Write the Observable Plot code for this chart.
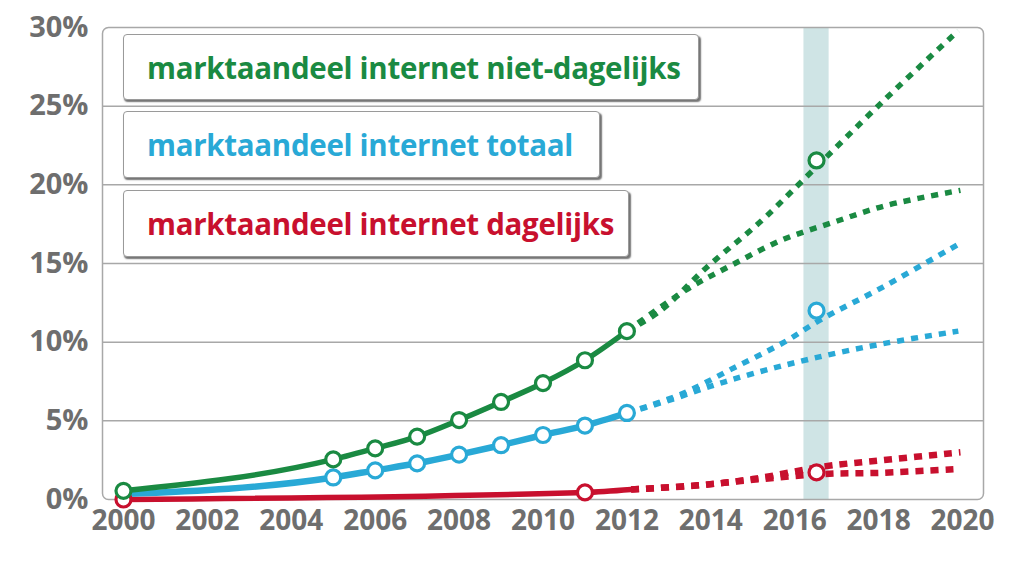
<!DOCTYPE html>
<html>
<head>
<meta charset="utf-8">
<script src="https://cdn.jsdelivr.net/npm/d3@7"></script>
<script src="https://cdn.jsdelivr.net/npm/@observablehq/plot@0.6"></script>
<style>
  html, body { margin: 0; padding: 0; background: #fff; }
  #wrap { position: relative; width: 1024px; height: 566px; overflow: hidden; font-family: "Open Sans", sans-serif; }
  #wrap svg text { font-weight: 700; }
  .lg { position: absolute; box-sizing: border-box; background: #fff; border: 1.5px solid #9a9a9a; border-radius: 4px;
        box-shadow: 1.5px 2px 1.5px rgba(0,0,0,0.55); font-family: "Open Sans", sans-serif; font-weight: 700;
        font-size: 29.5px; display: flex; align-items: center; padding-left: 23px; white-space: nowrap; letter-spacing: -0.3px; }
</style>
</head>
<body>
<div id="wrap"></div>
<script>
// ---- data ----
const seriesNames = ["marktaandeel internet niet-dagelijks", "marktaandeel internet totaal", "marktaandeel internet dagelijks"];
const seriesColors = ["#1a8a42", "#29a9d6", "#c8102e"];

// measured years (solid lines)
const measuredYears = [2000, 2005, 2006, 2007, 2008, 2009, 2010, 2011, 2012];
const nietDagelijks = [0.55, 2.55, 3.25, 4.0, 5.05, 6.2, 7.4, 8.85, 10.7];
const totaal        = [0.35, 1.4, 1.85, 2.3, 2.85, 3.45, 4.1, 4.7, 5.5];
const dagelijksYears = [2000, 2011, 2012.1];
const dagelijks      = [0.0, 0.45, 0.64];
const dagelijksMarkerYears = [2000, 2011];
const dagelijksMarkers     = [0.0, 0.45];

// projections (dotted lines)
const greenHighYears = [2012, 2012.8, 2013.9, 2015.2, 2016.2, 2018.1, 2019.9];
const greenHigh      = [10.7, 12.0, 14.75, 17.7, 20.3, 25.3, 29.8];
const greenLowYears  = [2012, 2013.4, 2014.5, 2015.7, 2016.9, 2018.2, 2019.95];
const greenLow       = [10.7, 13.3, 14.9, 16.5, 17.6, 18.7, 19.65];
const blueHighYears  = [2012, 2013.3, 2014.5, 2015.75, 2016.6, 2018.1, 2019.95];
const blueHigh       = [5.5, 6.7, 8.3, 10.0, 11.4, 13.5, 16.3];
const blueLowYears   = [2012, 2013, 2014, 2015, 2016.4, 2018.1, 2019.9];
const blueLow        = [5.5, 6.3, 7.2, 8.0, 8.95, 9.9, 10.7];
const redHighYears   = [2012.1, 2013.7, 2015, 2016.7, 2018.1, 2019.95];
const redHigh        = [0.64, 0.9, 1.3, 2.1, 2.5, 3.0];
const redLowYears    = [2012.1, 2013.7, 2015, 2016.7, 2018.1, 2019.95];
const redLow         = [0.64, 0.9, 1.25, 1.62, 1.7, 1.95];

// 2016 estimate markers
const estimateYear = 2016.52;
const estimates = [21.55, 12.0, 1.72];
const bandStart = 2016.22, bandEnd = 2016.82;

const xTicks = d3.range(2000, 2021, 2);
const yTicks = [0, 5, 10, 15, 20, 25, 30];
const yGrid = [5, 10, 15, 20, 25];

// ---- build tables ----
const zip = (xs, ys) => xs.map((x, i) => ({x, y: ys[i]}));
const solidGreen = zip(measuredYears, nietDagelijks);
const solidBlue = zip(measuredYears, totaal);
const solidRed = zip(dagelijksYears, dagelijks);
const dotsGreen = solidGreen;
const dotsBlue = solidBlue.slice(1);
const dotsRed = zip(dagelijksMarkerYears, dagelijksMarkers);
const est = estimates.map((v, i) => ({x: estimateYear, y: v, c: seriesColors[i]}));

const dotted = (xs, ys, color, w, dash) => Plot.line(zip(xs, ys), {x: "x", y: "y", stroke: color, strokeWidth: w, strokeDasharray: dash, curve: "catmull-rom", strokeLinecap: "butt"});

const dotOpts = {x: "x", y: "y", r: 7.5, fill: "#fff", strokeWidth: 3.2};

const chart = Plot.plot({
  width: 1024, height: 566,
  marginLeft: 102, marginRight: 41, marginTop: 27, marginBottom: 67,
  x: {domain: [1999.5, 2020.5], label: null},
  y: {domain: [0, 30], label: null},
  style: {fontFamily: "Open Sans, sans-serif", background: "#fff"},
  marks: [
    Plot.rect([{x1: bandStart, x2: bandEnd}], {x1: "x1", x2: "x2", fill: "#cfe4e5"}),
    Plot.ruleY(yGrid, {stroke: "#a8a8a8", strokeWidth: 1.5}),
    Plot.frame({stroke: "#a8a8a8", strokeWidth: 1.5, rx: 6}),
    // projections
    dotted(greenHighYears, greenHigh, seriesColors[0], 5.5, "7,7"),
    dotted(greenLowYears, greenLow, seriesColors[0], 5.5, "7,7"),
    dotted(blueHighYears, blueHigh, seriesColors[1], 5.5, "7,7"),
    dotted(blueLowYears, blueLow, seriesColors[1], 5.5, "7,7"),
    dotted(redHighYears, redHigh, seriesColors[2], 6.5, "8,7"),
    dotted(redLowYears, redLow, seriesColors[2], 6.5, "8,7"),
    // measured
    Plot.line(solidRed, {x: "x", y: "y", stroke: seriesColors[2], strokeWidth: 5.5, curve: "monotone-x"}),
    Plot.line(solidBlue, {x: "x", y: "y", stroke: seriesColors[1], strokeWidth: 6.5, curve: "monotone-x"}),
    Plot.line(solidGreen, {x: "x", y: "y", stroke: seriesColors[0], strokeWidth: 5.5, curve: "monotone-x"}),
    Plot.dot(dotsRed, {...dotOpts, stroke: seriesColors[2]}),
    Plot.dot(dotsBlue, {...dotOpts, stroke: seriesColors[1]}),
    Plot.dot(dotsGreen, {...dotOpts, stroke: seriesColors[0]}),
    Plot.dot(est, {...dotOpts, stroke: "c"}),
    // axes
    Plot.axisX(xTicks, {tickSize: 0, tickPadding: 11, tickFormat: d => String(d), fontSize: 28, fill: "#6e6e6e", fontWeight: "bold", label: null}),
    Plot.axisY(yTicks, {tickSize: 0, tickPadding: 14, tickFormat: d => d + "%", fontSize: 29, fill: "#6e6e6e", fontWeight: "bold", label: null})
  ]
});

const wrap = document.getElementById("wrap");
wrap.appendChild(chart);

// legend boxes overlaid on the plot
const boxes = [
  {left: 123, top: 34, width: 576, height: 66},
  {left: 123, top: 111, width: 477, height: 67},
  {left: 123, top: 190, width: 506, height: 67}
];
seriesNames.forEach((name, i) => {
  const d = document.createElement("div");
  d.className = "lg";
  Object.assign(d.style, {left: boxes[i].left + "px", top: boxes[i].top + "px", width: boxes[i].width + "px", height: boxes[i].height + "px", color: seriesColors[i]});
  d.textContent = name;
  wrap.appendChild(d);
});
</script>
</body>
</html>
